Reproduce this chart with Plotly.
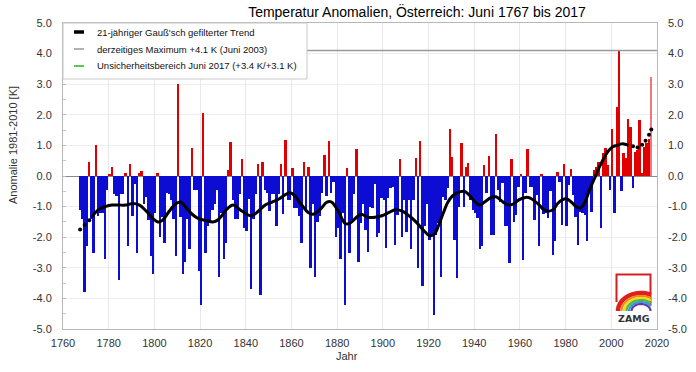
import math
import plotly.graph_objects as go

# ---------------- data ----------------
years = list(range(1767, 2018))
anomaly = [
    -1.1, -1.4, -3.8, -2.3, 0.45, -1.4, -2.5, 1.0, -1.3, -1.2,          # 1767-1776
    -1.2, -2.7, -0.45, 0.05, 0.3, -0.6, -0.65, -3.4, -0.6, -0.6,        # 1777-1786
    0.1, -2.3, 0.4, -1.3, -0.25, -2.5, 0.1, 0.15, -0.9, -0.7,           # 1787-1796
    -1.45, -2.6, -3.2, -1.2, 0.1, -2.0, -1.35, -2.2, -0.55, -0.6,       # 1797-1806
    -0.8, -1.4, -2.6, 3.0, -1.35, -3.2, -2.8, -1.4, -2.4, 0.9,          # 1807-1816
    -0.45, -0.45, -3.1, -4.2, 2.07, -2.5, -1.65, -1.55, -1.1, -0.9,     # 1817-1826
    -0.45, -3.3, -1.2, -2.7, -2.2, 0.2, 1.1, -0.8, -1.4, -1.4,          # 1827-1836
    -0.6, 0.55, -1.7, -1.8, -0.75, -3.7, -1.4, -0.6, 0.4, -3.9,         # 1837-1846
    0.45, -0.45, -0.55, -1.15, -0.6, -0.6, -1.65, -0.6, 0.4, -1.25,     # 1847-1856
    1.17, -0.8, -0.8, 0.25, -1.05, -1.05, -1.3, -2.2, 0.45, -1.1,       # 1857-1866
    0.28, -3.0, -0.9, -3.3, -1.5, -1.3, -0.55, 0.68, -0.65, 1.14,       # 1867-1876
    -0.55, -0.2, -2.0, -1.7, -2.7, -1.2, -4.2, 0.25, -2.5, -1.45,       # 1877-1886
    -0.6, 0.87, -2.8, -1.55, -0.9, -1.75, -2.47, -1.0, -1.05, -0.25,    # 1887-1896
    -2.0, -1.85, -0.73, -0.8, -2.35, -0.73, -0.4, -0.35, -2.25, -1.27,  # 1897-1906
    0.55, -2.0, -0.78, -1.84, -0.78, -2.4, -0.78, 0.6, -3.0, 1.15,      # 1907-1916
    -3.6, -1.65, -0.9, -2.1, -1.95, -4.53, -1.93, -1.55, -3.3, -0.67,   # 1917-1926
    -0.78, -0.4, 1.52, 0.63, -2.1, -3.34, -1.0, 1.08, -1.0, 0.28,       # 1927-1936
    0.41, -0.78, -1.1, -1.2, -1.38, -2.4, -2.3, 0.36, -0.57, 0.66,      # 1937-1946
    -1.93, -1.93, 1.37, -0.45, -0.84, -0.24, -1.65, -1.65, -2.85, 0.54, # 1947-1956
    -1.5, -1.27, -0.35, 0.05, -2.74, -0.57, 0.88, -0.35, -0.35, -1.43,  # 1957-1966
    -0.62, -2.3, 0.08, -1.25, -1.2, -1.38, -0.5, -2.58, -2.14, 0.12,    # 1967-1976
    -0.18, -1.6, 0.38, -1.65, -0.3, 0.23, -0.62, -1.33, -2.25, -1.16,   # 1977-1986
    -1.22, -1.27, -2.12, -0.57, -1.16, 0.2, 0.3, 0.47, -1.7, 0.74,      # 1987-1996
    0.9, 0.36, -0.46, 1.55, -1.22, 2.26, 4.09, -0.5, 0.74, 0.58,        # 1997-2006
    1.86, 1.6, -0.4, 0.77, 0.85, 1.83, 0.1, 0.95, 1.07, 1.2,            # 2007-2016
    3.24,                                                               # 2017
]
assert len(anomaly) == len(years)

trend_years = [1772, 1775, 1778, 1781, 1784, 1787, 1790, 1793, 1796, 1799,
               1801, 1803, 1806, 1809, 1811, 1813, 1816, 1819, 1822, 1825,
               1827, 1829, 1831, 1834, 1837, 1840, 1842, 1845, 1848, 1851,
               1854, 1857, 1859, 1861, 1864, 1867, 1869, 1872, 1875, 1877,
               1880, 1883, 1885, 1888, 1890, 1893, 1896, 1899, 1902, 1905,
               1908, 1911, 1914, 1917, 1920, 1922, 1924, 1926, 1928, 1930,
               1932, 1935, 1937, 1940, 1942, 1944, 1947, 1949, 1951, 1953,
               1955, 1957, 1959, 1962, 1964, 1966, 1968, 1970, 1972, 1974,
               1976, 1978, 1980, 1982, 1984, 1986, 1988, 1990, 1992, 1994,
               1996, 1998, 2000, 2002, 2004, 2006, 2007]
trend_values = [-1.35, -1.1, -1.0, -0.95, -0.95, -0.95, -0.9, -0.95, -1.15, -1.4,
                -1.5, -1.45, -1.15, -0.9, -0.85, -1.0, -1.25, -1.4, -1.45, -1.5,
                -1.45, -1.3, -1.1, -0.95, -1.1, -1.25, -1.3, -1.15, -0.95, -0.85,
                -0.75, -0.6, -0.55, -0.65, -0.95, -1.2, -1.25, -1.1, -0.85, -0.85,
                -1.15, -1.55, -1.55, -1.35, -1.25, -1.35, -1.35, -1.3, -1.2, -1.1,
                -1.15, -1.3, -1.5, -1.75, -1.95, -1.9, -1.6, -1.2, -0.85, -0.65,
                -0.55, -0.5, -0.6, -0.85, -0.95, -0.85, -0.7, -0.68, -0.78, -0.9,
                -0.95, -0.9, -0.78, -0.7, -0.72, -0.82, -0.95, -1.1, -1.15, -1.1,
                -0.9, -0.78, -0.75, -0.85, -1.0, -1.05, -0.85, -0.45, -0.1, 0.25,
                0.55, 0.8, 0.95, 1.0, 1.05, 1.03, 1.0]
trend_start_years = [1767, 1769, 1771]
trend_start_values = [-1.75, -1.6, -1.45]
trend_end_years = [2009, 2011, 2013, 2014.5, 2016, 2017]
trend_end_values = [0.97, 0.93, 1.02, 1.15, 1.35, 1.52]

max_value = 4.1
legend_texts = ["21-jähriger Gauß'sch gefilterter Trend",
                "derzeitiges Maximum +4.1 K (Juni 2003)",
                "Unsicherheitsbereich Juni 2017 (+3.4 K/+3.1 K)"]
x_ticks = list(range(1760, 2021, 20))
y_ticks = [-5, -4, -3, -2, -1, 0, 1, 2, 3, 4, 5]

# ---------------- layout geometry ----------------
W, H = 696, 372
ML, MR, MT, MB = 63, 39, 23, 43
PW, PH = W - ML - MR, H - MT - MB
BAR_SHIFT = 0.5   # bars and trend drawn over the year interval [Y, Y+1]


def px(xp):
    return (xp - ML) / PW


def py(yp):
    return (H - MB - yp) / PH


FONT = "Liberation Sans, Arial, sans-serif"
BLUE = "#0c0cd2"
RED = "#e00000"

colors = [RED if v >= 0 else BLUE for v in anomaly]
colors[-1] = "#f07a7a"

fig = go.Figure()
fig.add_trace(go.Bar(x=years, y=anomaly, marker=dict(color=colors, line=dict(width=0)),
                     width=0.82, offset=BAR_SHIFT - 0.41, showlegend=False))
fig.add_trace(go.Scatter(x=[1760, 2020], y=[max_value, max_value], mode="lines",
                         line=dict(color="#9a9a9a", width=1.5), showlegend=False))
fig.add_trace(go.Scatter(x=[y + BAR_SHIFT for y in trend_years], y=trend_values, mode="lines",
                         line=dict(color="black", width=3, shape="spline", smoothing=1.0),
                         showlegend=False))
fig.add_trace(go.Scatter(x=[y + BAR_SHIFT for y in trend_start_years], y=trend_start_values,
                         mode="markers", marker=dict(color="black", size=4), showlegend=False))
fig.add_trace(go.Scatter(x=[y + BAR_SHIFT for y in trend_end_years], y=trend_end_values,
                         mode="markers", marker=dict(color="black", size=4), showlegend=False))
# invisible trace to show right axis
fig.add_trace(go.Scatter(x=[1760], y=[0], yaxis="y2", mode="markers",
                         marker=dict(opacity=0), showlegend=False, hoverinfo="skip"))

shapes = []
annotations = []

# manual legend
lx0, lx1, ly0, ly1 = 63, 307, 23, 79
shapes.append(dict(type="rect", xref="paper", yref="paper", x0=px(lx0), x1=px(lx1),
                   y0=py(ly1), y1=py(ly0), fillcolor="white",
                   line=dict(color="#c8c8c8", width=1), layer="above"))
row_y = [32, 49, 66]
row_styles = [("black", 3.5), ("#9a9a9a", 1.5), ("#22b422", 1.5)]
for yy, (c, w), t in zip(row_y, row_styles, legend_texts):
    shapes.append(dict(type="line", xref="paper", yref="paper", x0=px(74), x1=px(84),
                       y0=py(yy), y1=py(yy), line=dict(color=c, width=w), layer="above"))
    annotations.append(dict(text=t, xref="paper", yref="paper", x=px(95), y=py(yy),
                            xanchor="left", yanchor="middle", showarrow=False,
                            font=dict(family=FONT, size=9.5, color="#111")))

# ZAMG logo
shapes.append(dict(type="path", xref="paper", yref="paper",
                   path="M {},{} L {},{} L {},{} L {},{}".format(
                       px(616.5), py(302), px(616.5), py(274.5), px(650.5), py(274.5), px(650.5), py(305)),
                   line=dict(color="#d42020", width=2), layer="above"))
cx, cy = 641, 311
arcs = [(23, 18, "#e02020", 4.5), (19.5, 15, "#f08a1a", 2.2), (17, 13, "#f5d820", 2.2),
        (14.5, 11, "#58b830", 2.2), (12, 9, "#2aa0e0", 2.2), (9.5, 7, "#6a3aa0", 2.2)]
for rx, ry, c, w in arcs:
    pts = []
    a_end = math.degrees(math.acos(min(1.0, (651 - cx) / rx)))
    n = 24
    for i in range(n + 1):
        a = math.radians(180 - (180 - a_end) * i / n)
        pts.append((cx + rx * math.cos(a), cy - ry * math.sin(a)))
    path = "M " + " L ".join("{:.5f},{:.5f}".format(px(a), py(b)) for a, b in pts)
    shapes.append(dict(type="path", xref="paper", yref="paper", path=path,
                       line=dict(color=c, width=w), layer="above"))
annotations.append(dict(text="<b>ZAMG</b>", xref="paper", yref="paper", x=px(634), y=py(318.5),
                        xanchor="center", yanchor="middle", showarrow=False,
                        font=dict(family="DejaVu Sans, sans-serif", size=9.5, color="#333")))

# axis titles
annotations.append(dict(text="Anomalie 1981-2010 [K]", xref="paper", yref="paper",
                        x=px(13), y=py(145), xanchor="center", yanchor="middle",
                        textangle=-90, showarrow=False,
                        font=dict(family=FONT, size=11, color="#333")))
annotations.append(dict(text="Jahr", xref="paper", yref="paper", x=px(347), y=py(356),
                        xanchor="center", yanchor="middle", showarrow=False,
                        font=dict(family=FONT, size=11, color="#333")))

fig.update_layout(
    width=W, height=H,
    margin=dict(l=ML, r=MR, t=MT, b=MB, pad=0, autoexpand=False),
    paper_bgcolor="white", plot_bgcolor="white",
    title=dict(text="Temperatur Anomalien, Österreich: Juni 1767 bis 2017",
               x=px(417), xref="paper", xanchor="center", y=1 - 12 / H, yanchor="middle",
               font=dict(family=FONT, size=14, color="black")),
    showlegend=False,
    bargap=0.0,
    xaxis=dict(range=[1760, 2020], tickvals=x_ticks, ticktext=[str(t) for t in x_ticks],
               showgrid=True, gridcolor="#e8e8e8", gridwidth=1, automargin=False,
               showline=True, mirror=True, linecolor="#b8b8b8", linewidth=1,
               ticks="", ticklabelstandoff=4, zeroline=False,
               tickfont=dict(family=FONT, size=11, color="#333")),
    yaxis=dict(range=[-5, 5], tickvals=y_ticks, ticktext=["{:.1f}".format(v) for v in y_ticks],
               showgrid=True, gridcolor="#eeeeee", gridwidth=1, automargin=False,
               zeroline=True, zerolinecolor="#8a8a8a", zerolinewidth=1,
               showline=True, mirror=True, linecolor="#b8b8b8", linewidth=1,
               ticks="inside", ticklen=3, tickcolor="#b8b8b8",
               minor=dict(dtick=0.5, ticks="inside", ticklen=3, tickcolor="#c8c8c8"),
               ticklabelstandoff=8,
               tickfont=dict(family=FONT, size=11, color="#333")),
    yaxis2=dict(range=[-5, 5], overlaying="y", side="right", tickvals=y_ticks,
                ticktext=["{:.1f}".format(v) for v in y_ticks], showgrid=False,
                zeroline=False, showline=False, ticks="", ticklabelstandoff=10,
                automargin=False,
                tickfont=dict(family=FONT, size=11, color="#333")),
    shapes=shapes,
    annotations=annotations,
)

fig.write_html("out.html", config={"displayModeBar": False},
               post_script="document.body.style.margin='0';document.body.style.padding='0';")
